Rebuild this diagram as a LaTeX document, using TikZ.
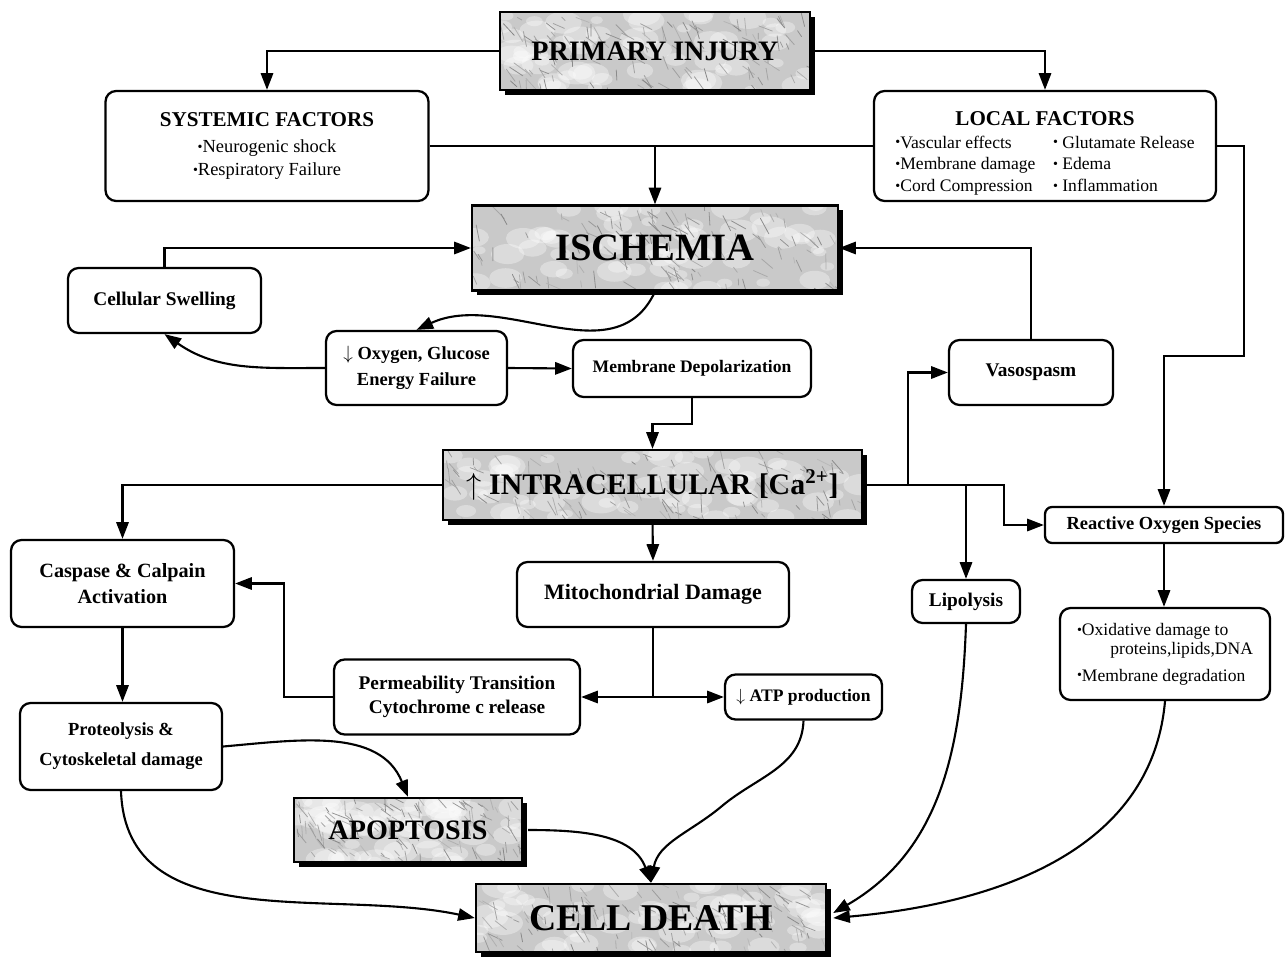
\documentclass[tikz,border=0pt]{standalone}
\usepackage{fontspec}
\setmainfont{Liberation Serif}
\usetikzlibrary{arrows.meta,calc}
\newcommand\bul{\raisebox{0.6pt}{\fontsize{8}{8}\selectfont •}}
\newcommand\shadedbox[6]{%
  \fill[black] ({#2-#4/2+5},{#3-#5/2+5}) rectangle ({#2+#4/2+5},{#3+#5/2+5});
  \fill[marble] ({#2-#4/2},{#3-#5/2}) rectangle ({#2+#4/2},{#3+#5/2});
  \begin{scope}
    \clip ({#2-#4/2},{#3-#5/2}) rectangle ({#2+#4/2},{#3+#5/2});
    \foreach \k in {1,...,60}{%
      \pgfmathsetmacro\mx{#2-#4/2+rnd*#4}%
      \pgfmathsetmacro\my{#3-#5/2+rnd*#5}%
      \pgfmathsetmacro\mr{6+rnd*14}%
      \fill[white,opacity=0.35] (\mx,\my) circle[x radius=\mr*0.02cm,y radius=\mr*0.012cm];
    }
    \foreach \k in {1,...,120}{%
      \pgfmathsetmacro\mx{#2-#4/2+rnd*#4}%
      \pgfmathsetmacro\my{#3-#5/2+rnd*#5}%
      \pgfmathsetmacro\ma{20+rnd*70}%
      \pgfmathsetmacro\ml{4+rnd*14}%
      \pgfmathtruncatemacro\mg{55+rnd*40}%
      \draw[line width=0.45pt,line cap=round,color=gray!\mg] (\mx,\my) -- ++(\ma:\ml);
    }
  \end{scope}
  \pgfmathsetmacro\bw{#4*0.02}%
  \pgfmathsetmacro\bh{#5*0.02}%
  \node[sbox,minimum width=\bw cm,minimum height=\bh cm] (#1) at (#2,#3) {#6};
}
\begin{document}
\begin{tikzpicture}[x=0.02cm,y=-0.02cm,
  rbox/.style={draw=black,line width=1.3pt,rounded corners=6pt,fill=white,align=center,inner sep=2pt},
  sbox/.style={draw=black,line width=1.3pt,align=center,inner sep=2pt},
  conn/.style={line width=1.2pt},
  arr/.style={conn,-{Triangle[length=9.5pt,width=7pt]}},
  marble/.style={fill=gray!42}]
\useasboundingbox (0,0) rectangle (1287,959);
\pgfmathsetseed{7}

% ---------- shaded (marble) boxes ----------
\shadedbox{prim}{655}{51}{310}{78}{\bfseries\fontsize{16}{19}\selectfont PRIMARY INJURY}
\shadedbox{isch}{655}{248}{366}{85}{\bfseries\fontsize{22}{26}\selectfont ISCHEMIA}
\shadedbox{intra}{652.5}{485}{419}{70}{\bfseries\fontsize{17}{20}\selectfont $\uparrow$ INTRACELLULAR [Ca\textsuperscript{2+}]}
\shadedbox{apop}{408}{830}{228}{64}{\bfseries\fontsize{16}{19}\selectfont APOPTOSIS}
\shadedbox{death}{651}{918}{350}{68}{\bfseries\fontsize{21.5}{25}\selectfont CELL DEATH}

% ---------- rounded boxes ----------
\node[rbox,font=\fontsize{10.5}{13}\selectfont,minimum width=6.46cm,minimum height=2.2cm] (sys) at (267,146)
  {{\bfseries\fontsize{12}{14}\selectfont SYSTEMIC FACTORS}\\[2pt]
   \bul Neurogenic shock\\ \bul Respiratory Failure};
\node[rbox,font=\fontsize{10}{12.5}\selectfont,minimum width=6.84cm,minimum height=2.2cm,text depth=6pt] (loc) at (1045,146)
  {{\bfseries\fontsize{12}{14}\selectfont LOCAL FACTORS}\\[3pt]
   \begin{tabular}{@{}l@{\hspace{10pt}}l@{}}
   \bul Vascular effects & \bul\ Glutamate Release\\
   \bul Membrane damage & \bul\ Edema\\
   \bul Cord Compression & \bul\ Inflammation
   \end{tabular}};
\node[rbox,font=\bfseries\fontsize{11}{13}\selectfont,minimum width=3.86cm,minimum height=1.3cm] (cell) at (164.5,300.5) {Cellular Swelling};
\node[rbox,font=\bfseries\fontsize{10.5}{14.5}\selectfont,minimum width=3.62cm,minimum height=1.48cm] (oxy) at (416.5,368) {$\downarrow$ Oxygen, Glucose\\ Energy Failure};
\node[rbox,font=\bfseries\fontsize{10}{12}\selectfont,minimum width=4.76cm,minimum height=1.14cm] (memb) at (692,368.5) {Membrane Depolarization};
\node[rbox,font=\bfseries\fontsize{11}{13}\selectfont,minimum width=3.28cm,minimum height=1.3cm] (vaso) at (1031,372.5) {Vasospasm};
\node[rbox,font=\bfseries\fontsize{11.5}{14.5}\selectfont,minimum width=4.46cm,minimum height=1.74cm] (casp) at (122.5,583.5) {Caspase \& Calpain\\ Activation};
\node[rbox,font=\bfseries\fontsize{12.5}{15}\selectfont,minimum width=5.44cm,minimum height=1.3cm] (mito) at (653,594.5) {Mitochondrial Damage};
\node[rbox,font=\bfseries\fontsize{11}{13}\selectfont,minimum width=2.16cm,minimum height=0.86cm] (lipo) at (966,601.5) {Lipolysis};
\node[rbox,font=\bfseries\fontsize{10.5}{12}\selectfont,rounded corners=4pt,minimum width=4.76cm,minimum height=0.72cm] (ros) at (1164,525) {Reactive Oxygen Species};
\node[rbox,align=left,font=\fontsize{10}{11}\selectfont,minimum width=4.2cm,minimum height=1.84cm] (oxid) at (1165,654)
  {\bul Oxidative damage to\\ \hspace*{1.9em}proteins,lipids,DNA\\[4pt] \bul Membrane degradation};
\node[rbox,font=\bfseries\fontsize{11}{14}\selectfont,minimum width=4.92cm,minimum height=1.5cm] (perm) at (457,697) {Permeability Transition\\ Cytochrome c release};
\node[rbox,font=\bfseries\fontsize{10}{12}\selectfont,minimum width=3.14cm,minimum height=0.9cm] (atp) at (803.5,697) {$\downarrow$ ATP production};
\node[rbox,font=\bfseries\fontsize{10.5}{17}\selectfont,minimum width=4.04cm,minimum height=1.74cm] (prot) at (121,746.5) {Proteolysis \&\\ Cytoskeletal damage};

% ---------- connectors ----------
\draw[arr] (prim.west) -| (sys.north);
\draw[arr] (prim.east) -| (loc.north);
\draw[conn] (sys.east) -- (loc.west);
\draw[arr] (isch.north |- sys.east) -- (isch.north);
\coordinate (r1) at (1244,356);
\draw[arr] (loc.east) -| (r1) -| (ros.north);
\draw[arr] (cell.north) |- (isch.west);
\draw[arr] (isch.south) to[out=245,in=25] (oxy.north);
\draw[arr] (oxy.west) to[out=180,in=-35] (cell.south);
\draw[arr] (oxy.east) -- (memb.west);
\draw[arr] (memb.south) -- ++(0,26) -| (intra.north);
\draw[arr] (vaso.north) |- (isch.east);
\coordinate (j1) at (1004,485);
\draw[arr] (intra.east) -- (j1) |- (ros.west);
\coordinate (j2) at (908,485);
\draw[arr] (j2) |- (vaso.west);
\draw[arr] (lipo.north |- intra.east) -- (lipo.north);
\draw[arr] (intra.west) -| (casp.north);
\draw[arr] (intra.south) -- (mito.north);
\coordinate (j3) at (653,697);
\draw[conn] (mito.south) -- (j3);
\draw[arr] (j3) -- (perm.east);
\draw[arr] (j3) -- (atp.west);
\coordinate (j4) at (284,583.5);
\draw[arr] (perm.west) -| (j4) -- (casp.east);
\draw[arr] (casp.south) -- (casp.south |- prot.north);
\draw[arr] (ros.south) -- (ros.south |- oxid.north);
\draw[arr] (prot.east) to[out=5,in=112] (apop.north);
\draw[arr] (prot.south) to[out=-88,in=168] (death.west);
\draw[arr] ([xshift=0.1cm]apop.east) to[out=0,in=110] (death.north);
\coordinate (k1) at (722,806);
\draw[arr] (atp.south) to[out=-92,in=40] (k1) to[out=220,in=80] (death.north);
\draw[arr] (lipo.south) to[out=-92,in=30] ([xshift=0.12cm,yshift=0.1cm]death.east);
\draw[arr] (oxid.south) to[out=-95,in=5] ([xshift=0.12cm]death.east);
\end{tikzpicture}
\end{document}
